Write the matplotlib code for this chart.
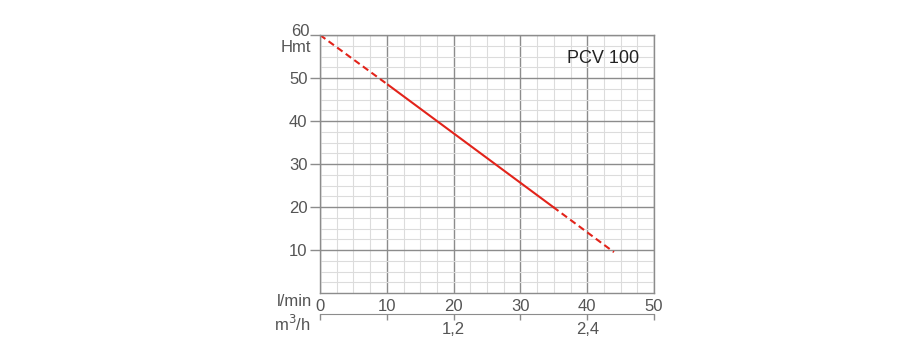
import matplotlib.pyplot as plt
from matplotlib.ticker import MultipleLocator, FixedLocator, FixedFormatter

plt.rcParams['font.family'] = ['Liberation Sans', 'DejaVu Sans']

# curve (l/min -> Hmt)
q_dash1 = [0, 10.2]
h_dash1 = [60, 48.4]
q_solid = [10.2, 34.9]
h_solid = [48.4, 20.0]
q_dash2 = [34.9, 44.0]
h_dash2 = [20.0, 9.5]

x_ticks = [0, 10, 20, 30, 40, 50]
y_ticks = [10, 20, 30, 40, 50, 60]
y_labels = ['10', '20', '30', '40', '50', '']
m3h_ticks = [0, 0.6, 1.2, 1.8, 2.4, 3.0]
m3h_labels = ['', '', '1,2', '', '2,4', '']

txt = '#555555'
red = '#e2231a'

fig = plt.figure(figsize=(9, 3.59), dpi=100)
ax = fig.add_axes([320 / 900, 1 - 293 / 359, 334 / 900, 258 / 359])

ax.plot(q_dash1, h_dash1, color=red, lw=1.5, dashes=(3.2, 1.9))
ax.plot(q_solid, h_solid, color=red, lw=1.5)
ax.plot(q_dash2, h_dash2, color=red, lw=1.5, dashes=(3.2, 1.9))

ax.set_xlim(0, 50)
ax.set_ylim(0, 60)
ax.xaxis.set_major_locator(FixedLocator(x_ticks))
ax.yaxis.set_major_locator(FixedLocator(y_ticks))
ax.yaxis.set_major_formatter(FixedFormatter(y_labels))
ax.xaxis.set_minor_locator(MultipleLocator(2.5))
ax.yaxis.set_minor_locator(MultipleLocator(2.5))
ax.grid(which='major', color='#8c8c8c', lw=1.0)
ax.grid(which='minor', color='#dcdcdc', lw=0.8)
ax.set_axisbelow(True)
for s in ax.spines.values():
    s.set_color('#8c8c8c')
    s.set_linewidth(1.0)

ax.tick_params(axis='x', which='major', length=0, pad=4, labelsize=12, labelcolor=txt)
ax.tick_params(axis='y', which='major', length=7, width=1.0, color='#8c8c8c', pad=2,
               labelsize=12, labelcolor=txt)
ax.tick_params(which='minor', length=0)

# top y label sits a little higher, with the unit below it
ax.annotate('60', xy=(0, 60), xycoords='data', xytext=(-10, 3), textcoords='offset pixels',
            ha='right', va='center', fontsize=12, color=txt)
ax.annotate('Hmt', xy=(0, 60), xycoords='data', xytext=(-9, -13), textcoords='offset pixels',
            ha='right', va='center', fontsize=12, color=txt)
ax.annotate('l/min', xy=(0, 0), xycoords='data', xytext=(-8, -8), textcoords='offset pixels',
            ha='right', va='center', fontsize=12, color=txt)
ax.annotate('m$^3$/h', xy=(0, 0), xycoords='data', xytext=(-9, -31), textcoords='offset pixels',
            ha='right', va='center', fontsize=12, color=txt)

ax.text(0.955, 0.94, 'PCV 100', transform=ax.transAxes, ha='right', va='top',
        fontsize=13, color='#222222')

sec = ax.secondary_xaxis(-21 / 258, functions=(lambda q: q * 0.06, lambda m: m / 0.06))
sec.xaxis.set_major_locator(FixedLocator(m3h_ticks))
sec.xaxis.set_major_formatter(FixedFormatter(m3h_labels))
sec.tick_params(length=4, width=1.0, color='#8c8c8c', pad=2, labelsize=12, labelcolor=txt)
sec.spines['bottom'].set_color('#8c8c8c')

fig.savefig('out.png', dpi=100)
